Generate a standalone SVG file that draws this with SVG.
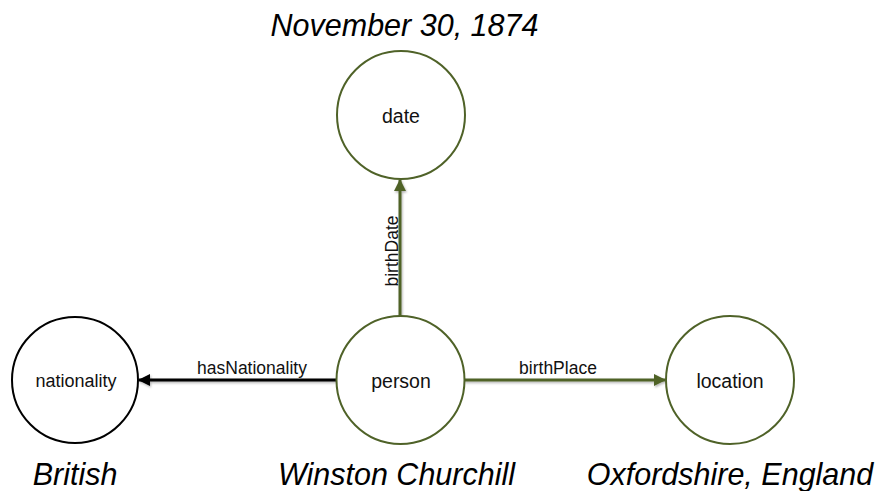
<svg xmlns="http://www.w3.org/2000/svg" width="875" height="491" viewBox="0 0 875 491">
  <style>
    .node { fill: #ffffff; stroke: #4f6228; stroke-width: 2; }
    .node.plain { stroke: #000000; }
    .lbl { font-family: "Liberation Sans", Arial, sans-serif; fill: #111111; text-anchor: middle; dominant-baseline: central; }
    .edge-lbl { font-family: "Liberation Sans", Arial, sans-serif; font-size: 17.5px; fill: #111111; text-anchor: middle; }
    .value { font-family: "Liberation Sans", Arial, sans-serif; font-style: italic; font-size: 30.5px; fill: #000000; text-anchor: middle; }
    .edge { fill: none; stroke-width: 3; filter: url(#shadow); }
    .edge.green { stroke: #4f6228; }
    .edge.black { stroke: #000000; }
  </style>
  <defs>
    <!-- soft shadow under the connector lines; user-space region so zero-height lines still render -->
    <filter id="shadow" filterUnits="userSpaceOnUse" x="0" y="0" width="875" height="491">
      <feDropShadow dx="1" dy="1.5" stdDeviation="1" flood-color="#000000" flood-opacity="0.3"/>
    </filter>
    <marker id="arrowGreen" markerUnits="userSpaceOnUse" markerWidth="12" markerHeight="12" viewBox="0 0 12 12" refX="11" refY="6" orient="auto">
      <path d="M0,0 L12,6 L0,12 Z" fill="#4f6228"/>
    </marker>
    <marker id="arrowBlack" markerUnits="userSpaceOnUse" markerWidth="12" markerHeight="12" viewBox="0 0 12 12" refX="11" refY="6" orient="auto">
      <path d="M0,0 L12,6 L0,12 Z" fill="#000000"/>
    </marker>
  </defs>

  <!-- connectors -->
  <g id="edges">
    <line class="edge green" x1="400" y1="316" x2="400" y2="180" marker-end="url(#arrowGreen)"/>
    <line class="edge black" x1="337" y1="380" x2="139" y2="380" marker-end="url(#arrowBlack)"/>
    <line class="edge green" x1="464" y1="380" x2="665" y2="380" marker-end="url(#arrowGreen)"/>
    <text class="edge-lbl" transform="translate(398,251) rotate(-90)">birthDate</text>
    <text class="edge-lbl" x="252" y="374">hasNationality</text>
    <text class="edge-lbl" x="558" y="374">birthPlace</text>
  </g>

  <!-- nodes -->
  <g id="date">
    <circle class="node" cx="401" cy="115" r="64"/>
    <text class="lbl" x="401" y="116" font-size="19.5">date</text>
    <text class="value" x="404.5" y="36">November 30, 1874</text>
  </g>
  <g id="person">
    <circle class="node" cx="400.5" cy="380" r="64"/>
    <text class="lbl" x="401" y="381" font-size="19.5">person</text>
    <text class="value" x="396.5" y="485">Winston Churchill</text>
  </g>
  <g id="nationality">
    <circle class="node plain" cx="75" cy="380" r="63"/>
    <text class="lbl" x="76" y="381" font-size="18">nationality</text>
    <text class="value" x="75" y="485">British</text>
  </g>
  <g id="location">
    <circle class="node" cx="730" cy="380" r="64"/>
    <text class="lbl" x="730" y="381" font-size="19.5">location</text>
    <text class="value" x="730" y="485">Oxfordshire, England</text>
  </g>
</svg>
